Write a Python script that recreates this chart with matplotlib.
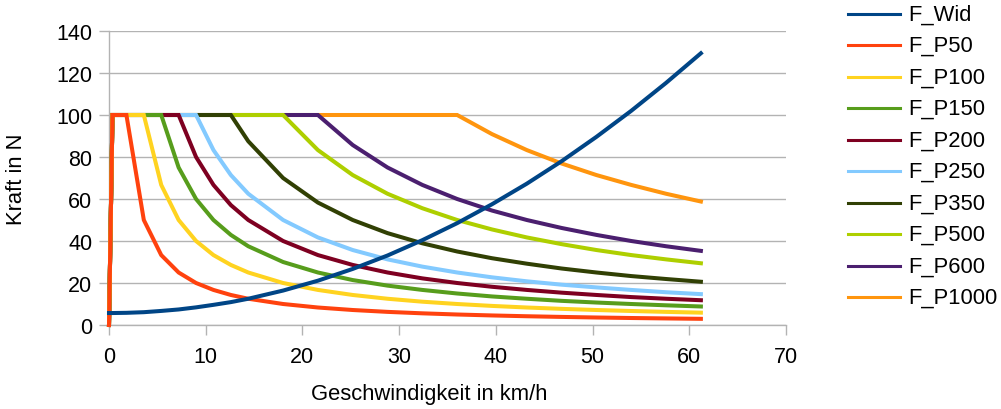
import matplotlib
matplotlib.use("Agg")
import matplotlib.pyplot as plt
from matplotlib.lines import Line2D

plt.rcParams['font.family'] = ['Liberation Sans', 'DejaVu Sans']

# speed in km/h (shared sample points)
speed = [0, 0.36, 1.8, 3.6, 5.4, 7.2, 9.0, 10.8, 12.6, 14.4, 18.0, 21.6, 25.2,
         28.8, 32.4, 36.0, 39.6, 43.2, 46.8, 50.4, 54.0, 57.6, 61.2]

f_wid = [5.7, 5.7, 5.8, 6.1, 6.7, 7.4, 8.4, 9.6, 10.9, 12.5, 16.4, 21.1, 26.7,
         33.1, 40.4, 48.5, 57.5, 67.3, 78.0, 89.6, 102.0, 115.3, 129.4]
f_p50 = [0, 100, 100, 50, 33.3, 25, 20, 16.7, 14.3, 12.5, 10, 8.33, 7.14,
         6.25, 5.56, 5, 4.55, 4.17, 3.85, 3.57, 3.33, 3.13, 2.94]
f_p100 = [0, 100, 100, 100, 66.7, 50, 40, 33.3, 28.6, 25, 20, 16.7, 14.3,
          12.5, 11.1, 10, 9.09, 8.33, 7.69, 7.14, 6.67, 6.25, 5.88]
f_p150 = [0, 100, 100, 100, 100, 75, 60, 50, 42.9, 37.5, 30, 25, 21.4,
          18.75, 16.7, 15, 13.6, 12.5, 11.5, 10.7, 10, 9.38, 8.82]
f_p200 = [0, 100, 100, 100, 100, 100, 80, 66.7, 57.1, 50, 40, 33.3, 28.6,
          25, 22.2, 20, 18.2, 16.7, 15.4, 14.3, 13.3, 12.5, 11.8]
f_p250 = [0, 100, 100, 100, 100, 100, 100, 83.3, 71.4, 62.5, 50, 41.7, 35.7,
          31.25, 27.8, 25, 22.7, 20.8, 19.2, 17.9, 16.7, 15.6, 14.7]
f_p350 = [0, 100, 100, 100, 100, 100, 100, 100, 100, 87.5, 70, 58.3, 50,
          43.75, 38.9, 35, 31.8, 29.2, 26.9, 25, 23.3, 21.9, 20.6]
f_p500 = [0, 100, 100, 100, 100, 100, 100, 100, 100, 100, 100, 83.3, 71.4,
          62.5, 55.6, 50, 45.5, 41.7, 38.5, 35.7, 33.3, 31.25, 29.4]
f_p600 = [0, 100, 100, 100, 100, 100, 100, 100, 100, 100, 100, 100, 85.7,
          75, 66.7, 60, 54.5, 50, 46.2, 42.9, 40, 37.5, 35.3]
f_p1000 = [0, 100, 100, 100, 100, 100, 100, 100, 100, 100, 100, 100, 100,
           100, 100, 100, 90.9, 83.3, 76.9, 71.4, 66.7, 62.5, 58.8]

labels = ["F_Wid", "F_P50", "F_P100", "F_P150", "F_P200", "F_P250",
          "F_P350", "F_P500", "F_P600", "F_P1000"]
series = [f_wid, f_p50, f_p100, f_p150, f_p200, f_p250, f_p350, f_p500,
          f_p600, f_p1000]
colors = ["#004586", "#ff420e", "#ffd320", "#579d1c", "#7e0021", "#83caff",
          "#314004", "#aecf00", "#4b1f6f", "#ff950e"]

W, H = 1001, 410
fig = plt.figure(figsize=(W / 100, H / 100), dpi=100)
ax = fig.add_axes([109 / W, (H - 326) / H, 677 / W, 294 / H])

grid_c = "#b3b3b3"
n = len(series)
for i in range(n):
    z = 20 if i == 0 else 10 + (n - i)
    ax.plot(speed, series[i], color=colors[i], lw=2.9, solid_joinstyle='miter',
            zorder=z, clip_on=False)

ax.set_xlim(0, 70)
ax.set_ylim(0, 140)
ax.set_xticks(range(0, 71, 10))
ax.set_yticks(range(0, 141, 20))
ax.yaxis.grid(True, color=grid_c, lw=1)
ax.set_axisbelow(True)
for s in ["top", "right"]:
    ax.spines[s].set_visible(False)
for s in ["left", "bottom"]:
    ax.spines[s].set_color(grid_c)
    ax.spines[s].set_linewidth(1)
ax.tick_params(axis='both', direction='out', length=7, width=1, color=grid_c,
               labelsize=15.5, labelcolor='#000000')
ax.tick_params(axis='x', pad=8)
ax.tick_params(axis='y', pad=5)

fig.text(429 / W, 1 - 395 / H, "Geschwindigkeit in km/h", ha='center',
         va='center', fontsize=15.8)
fig.text(17 / W, 1 - 179 / H, "Kraft in N", ha='center', va='center',
         rotation=90, fontsize=15.8)

# legend drawn manually
for k, (lab, col) in enumerate(zip(labels, colors)):
    yc = 1 - (15 + k * 31.47) / H
    fig.add_artist(Line2D([848 / W, 900 / W], [yc, yc], color=col, lw=2.2,
                          transform=fig.transFigure))
    fig.text(908 / W, yc, lab, ha='left', va='center', fontsize=15.8)

fig.savefig("out.png", dpi=100)
